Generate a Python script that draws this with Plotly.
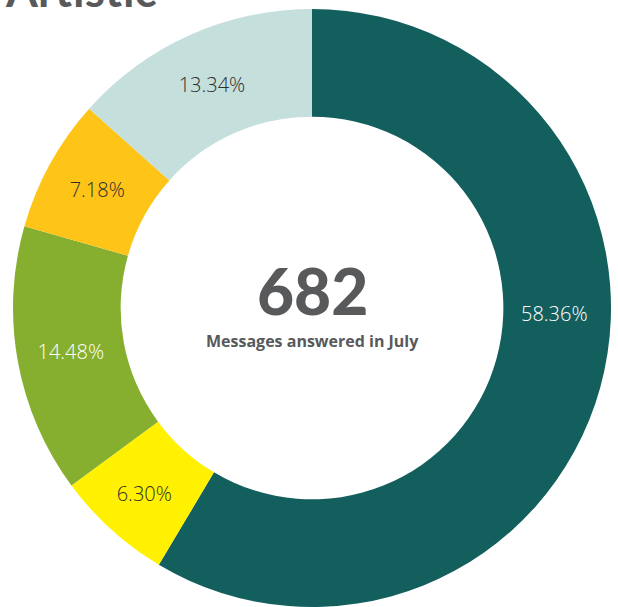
import plotly.graph_objects as go

categories = ["Category A", "Category B", "Category C", "Category D", "Category E"]
values = [58.36, 6.30, 14.48, 7.18, 13.34]
labels_text = ["58.36%", "6.30%", "14.48%", "7.18%", "13.34%"]
colors = ["#135F5E", "#FFF100", "#86AF30", "#FEC418", "#C5DFDD"]
text_colors = ["#FFFFFF", "#2E2E2E", "#FFFFFF", "#2E2E2E", "#2E2E2E"]
total = "682"
subtitle = "Messages answered in July"
title = "Artistic"

W, H = 618, 607
cx, cy, r = 312, 308, 299
label_font = "Open Sans"
label_size = 20

# the big slice's label sits near 3 o'clock in the reference, so it is an annotation
pie_text = [""] + labels_text[1:]

fig = go.Figure(go.Pie(
    labels=categories,
    values=values,
    text=pie_text,
    texttemplate="%{text}",
    textinfo="text",
    textposition="inside",
    insidetextorientation="horizontal",
    sort=False,
    direction="clockwise",
    rotation=0,
    hole=0.64,
    marker=dict(colors=colors, line=dict(width=0)),
    textfont=dict(family=label_font, size=label_size, color=text_colors, weight=300),
    domain=dict(x=[(cx - r) / W, (cx + r) / W], y=[(H - cy - r) / H, (H - cy + r) / H]),
    hoverinfo="skip",
    showlegend=False,
))

fig.add_annotation(text=labels_text[0], x=554 / W, y=1 - 313 / H, xref="paper", yref="paper",
                   showarrow=False, xanchor="center", yanchor="middle",
                   font=dict(family=label_font, size=label_size, color=text_colors[0], weight=300))
fig.add_annotation(text=total, x=cx / W, y=1 - 290 / H, xref="paper", yref="paper",
                   showarrow=False, xanchor="center", yanchor="middle",
                   font=dict(family="Lato", size=64, color="#58595B", weight=900))
fig.add_annotation(text=subtitle, x=cx / W, y=1 - 341 / H, xref="paper", yref="paper",
                   showarrow=False, xanchor="center", yanchor="middle",
                   font=dict(family="Open Sans", size=16, color="#58595B", weight="bold"))
fig.add_annotation(text=title, x=3 / W, y=1 + 11 / H, xref="paper", yref="paper",
                   showarrow=False, xanchor="left", yanchor="middle",
                   font=dict(family="Lato", size=46, color="#58595B", weight="bold"))

fig.update_layout(width=W, height=H, margin=dict(l=0, r=0, t=0, b=0),
                  paper_bgcolor="white", plot_bgcolor="white")
fig.write_html("out.html")
